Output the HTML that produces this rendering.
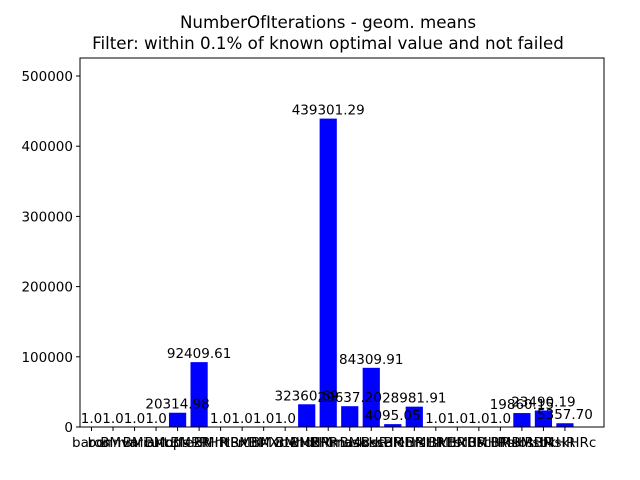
<!DOCTYPE html>
<html><head><meta charset="utf-8"><style>
body{margin:0;background:#fff}
svg{display:block;font-family:"DejaVu Sans","Liberation Sans",sans-serif}
</style></head><body>
<svg id="c" width="640" height="480" viewBox="0 0 640 480">
<text x="328" y="28" text-anchor="middle" font-size="16.7">NumberOfIterations - geom. means</text>
<text x="328" y="49" text-anchor="middle" font-size="16.7">Filter: within 0.1% of known optimal value and not failed</text>
<g id="bars"></g><g id="labels"></g><g id="xt"></g><g id="yt"></g>
<rect x="80" y="58" width="524" height="369" fill="none" stroke="#000" stroke-width="1"/>
</svg>
<script>
const categories=["baron","bonmin","BMvariant","BMcutoffs","BMcplexR","BMPRHR","BMrHRx","rtBMhr","rtBMXrt","BMvbwHR","BMhdrHR","BMHRmask","BMmaskHR","BMoksHR","BscaleHR","BMhrsHR","BMtskHR","BMtsrHR","BM0scHR","BMHRsHR","BMsbsHR","BMsbkHR","BMskHRc"];
const values=[1.0,1.0,1.0,1.0,20314.98,92409.61,1.0,1.0,1.0,1.0,32360.69,439301.29,29637.20,84309.91,4095.05,28981.91,1.0,1.0,1.0,1.0,19860.15,23490.19,5357.70];
const labels=["1.0","1.0","1.0","1.0","20314.98","92409.61","1.0","1.0","1.0","1.0","32360.69","439301.29","29637.20","84309.91","4095.05","28981.91","1.0","1.0","1.0","1.0","19860.15","23490.19","5357.70"];
const yTicks=[0,100000,200000,300000,400000,500000];
const NS="http://www.w3.org/2000/svg";
const X0=91.5,STEP=21.52,BW=17.2,Y0=427,YS=351/500000;
const xs=i=>X0+i*STEP, ys=v=>Y0-v*YS;
function mk(t,a,p){const e=document.createElementNS(NS,t);for(const k in a)e.setAttribute(k,a[k]);document.getElementById(p).appendChild(e);return e;}
values.forEach((v,i)=>{
 const r=mk("rect",{x:xs(i)-BW/2,y:ys(v),width:BW,height:Y0-ys(v),fill:"#0000ff"},"bars");
 
 
 const t=mk("text",{x:xs(i),y:ys(v)-4,"text-anchor":"middle","font-size":"13.5"},"labels");t.textContent=labels[i];
 
 
 const tk=mk("line",{x1:xs(i),x2:xs(i),y1:427,y2:431,stroke:"#000"},"xt");
 
 
 const xl=mk("text",{x:xs(i),y:447,"text-anchor":"middle","font-size":"13.5"},"xt");xl.textContent=categories[i];
 
 
});
yTicks.forEach(v=>{
 const l=mk("line",{x1:76,x2:80,y1:ys(v),y2:ys(v),stroke:"#000"},"yt");
 
 
 const t=mk("text",{x:73,y:ys(v)+5,"text-anchor":"end","font-size":"13.5"},"yt");t.textContent=String(v);
 
 
});
</script>
</body></html>
